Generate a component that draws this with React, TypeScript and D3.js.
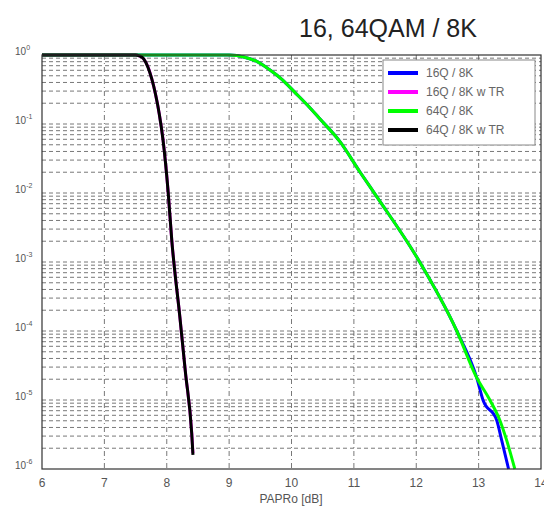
import React, { useEffect, useRef } from "react";
import * as d3 from "d3";

// PAPR values [dB] and CCDF probabilities
const blueX = [6.0, 9.0, 9.25, 9.45, 9.65, 9.85, 10.05, 10.25, 10.45, 10.78, 11.1, 11.38, 12.01, 12.65, 12.97, 13.07, 13.29, 13.37, 13.48];
const blueY = [1, 1, 0.93, 0.8, 0.61, 0.44, 0.29, 0.19, 0.12, 0.055, 0.02, 0.0085, 0.00117, 1.0e-4, 2.1e-5, 1.0e-5, 5.1e-6, 2.6e-6, 1.0e-6];

const magentaX = [6.0, 7.5, 7.56, 7.63, 7.7, 7.76, 7.82, 7.88, 7.94, 8.02, 8.08, 8.21, 8.3, 8.4, 8.42];
const magentaY = [1, 1, 0.97, 0.88, 0.67, 0.45, 0.27, 0.14, 0.06, 0.011, 0.0021, 1.6e-4, 2.5e-5, 3.4e-6, 1.7e-6];

const greenX = [6.0, 9.0, 9.25, 9.45, 9.65, 9.85, 10.05, 10.25, 10.45, 10.78, 11.1, 11.38, 12.01, 12.65, 12.97, 13.18, 13.34, 13.45, 13.58];
const greenY = [1, 1, 0.93, 0.8, 0.61, 0.44, 0.29, 0.19, 0.12, 0.055, 0.02, 0.0085, 0.00117, 1.0e-4, 2.1e-5, 1.0e-5, 5.1e-6, 2.6e-6, 1.0e-6];

const blackX = [6.0, 7.5, 7.56, 7.63, 7.7, 7.76, 7.82, 7.88, 7.94, 8.02, 8.08, 8.21, 8.3, 8.4, 8.42];
const blackY = [1, 1, 0.97, 0.88, 0.66, 0.45, 0.27, 0.14, 0.059, 0.011, 0.0021, 1.6e-4, 2.5e-5, 3.3e-6, 1.6e-6];

const seriesNames = ["16Q / 8K", "16Q / 8K w TR", "64Q / 8K", "64Q / 8K w TR"];
const seriesColors = ["#0000ff", "#ff00ff", "#00ff00", "#000000"];

const xTicks = [6, 7, 8, 9, 10, 11, 12, 13, 14];
const yExponents = [0, -1, -2, -3, -4, -5, -6];

const App = () => {
  const svgRef = useRef<SVGSVGElement>(null);

  useEffect(() => {
    const width = 544, height = 511;
    const left = 42, right = 541, top = 55, bottom = 469;

    const svg = d3.select(svgRef.current)
      .attr("width", width)
      .attr("height", height)
      .style("background", "#ffffff");
    svg.selectAll("*").remove();

    const x = d3.scaleLinear().domain([6, 14]).range([left, right]);
    const y = d3.scaleLog().domain([1e-6, 1]).range([bottom, top]);

    // grid: horizontal dashed lines at every log tick
    const hGrid: number[] = [];
    for (let k = -6; k < 0; k++) {
      for (let m = 1; m <= 9; m++) {
        const v = m * Math.pow(10, k);
        if (v > 1e-6 && v < 1) hGrid.push(v);
      }
    }
    svg.append("g")
      .selectAll("line")
      .data(hGrid)
      .enter().append("line")
      .attr("x1", left)
      .attr("x2", right)
      .attr("y1", d => y(d))
      .attr("y2", d => y(d))
      .attr("stroke", "#555")
      .attr("stroke-width", 0.8)
      .attr("stroke-dasharray", "4,3");

    svg.append("g")
      .selectAll("line")
      .data(xTicks.slice(1, -1))
      .enter().append("line")
      .attr("x1", d => x(d))
      .attr("x2", d => x(d))
      .attr("y1", top)
      .attr("y2", bottom)
      .attr("stroke", "#555")
      .attr("stroke-width", 0.8)
      .attr("stroke-dasharray", "5,3,1,3");

    // curves
    const line = d3.line<[number, number]>()
      .x(d => x(d[0]))
      .y(d => y(d[1]))
      .curve(d3.curveMonotoneX);

    const series = [
      d3.zip(blueX, blueY),
      d3.zip(magentaX, magentaY),
      d3.zip(greenX, greenY),
      d3.zip(blackX, blackY),
    ] as [number, number][][];

    series.forEach((s, i) => {
      svg.append("path")
        .datum(s)
        .attr("d", line)
        .attr("fill", "none")
        .attr("stroke", seriesColors[i])
        .attr("stroke-width", 3)
        .attr("stroke-linejoin", "round");
    });

    // frame
    svg.append("rect")
      .attr("x", left)
      .attr("y", top)
      .attr("width", right - left)
      .attr("height", bottom - top)
      .attr("fill", "none")
      .attr("stroke", "#333")
      .attr("stroke-width", 1.2);

    // x tick labels
    svg.append("g")
      .selectAll("text")
      .data(xTicks)
      .enter().append("text")
      .attr("x", d => x(d))
      .attr("y", 487)
      .attr("text-anchor", "middle")
      .attr("font-family", "Liberation Sans, Arial, sans-serif")
      .attr("font-size", "12px")
      .attr("fill", "#555")
      .text(d => d);

    // y tick labels
    const yLab = svg.append("g")
      .selectAll("text")
      .data(yExponents)
      .enter().append("text")
      .attr("x", 15)
      .attr("y", d => y(Math.pow(10, d)))
      .attr("font-family", "Liberation Sans, Arial, sans-serif")
      .attr("font-size", "10px")
      .attr("fill", "#555");
    yLab.append("tspan").text("10");
    yLab.append("tspan")
      .attr("dy", -5)
      .attr("font-size", "7px")
      .text(d => d);

    // axis label
    svg.append("text")
      .attr("x", 291)
      .attr("y", 503)
      .attr("text-anchor", "middle")
      .attr("font-family", "Liberation Sans, Arial, sans-serif")
      .attr("font-size", "12px")
      .attr("fill", "#555")
      .text("PAPRo [dB]");

    // title
    svg.append("text")
      .attr("x", 388)
      .attr("y", 37)
      .attr("text-anchor", "middle")
      .attr("font-family", "Liberation Sans, Arial, sans-serif")
      .attr("font-size", "25px")
      .attr("fill", "#222")
      .text("16, 64QAM / 8K");

    // legend
    const lg = svg.append("g");
    lg.append("rect")
      .attr("x", 383)
      .attr("y", 60)
      .attr("width", 152)
      .attr("height", 85)
      .attr("fill", "#fff")
      .attr("stroke", "#888")
      .attr("stroke-width", 1);
    const rowsY = [73, 92, 111, 130];
    seriesNames.forEach((name, i) => {
      lg.append("line")
        .attr("x1", 388)
        .attr("x2", 418)
        .attr("y1", rowsY[i])
        .attr("y2", rowsY[i])
        .attr("stroke", seriesColors[i])
        .attr("stroke-width", 4);
      lg.append("text")
        .attr("x", 426)
        .attr("y", rowsY[i] + 4)
        .attr("font-family", "Liberation Sans, Arial, sans-serif")
        .attr("font-size", "12px")
        .attr("fill", "#666")
        .text(name);
    });
  }, []);

  return <svg ref={svgRef} style={{ position: "absolute", left: 0, top: 0 }}></svg>;
};

export default App;
